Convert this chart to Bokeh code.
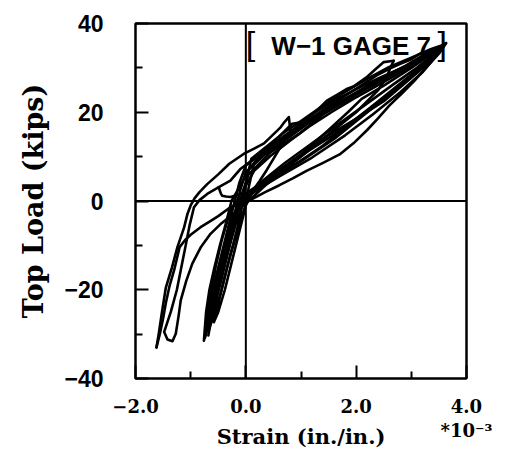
from bokeh.plotting import figure
from bokeh.models import FixedTicker, Span, Label, Range1d
from bokeh.embed import file_html
from bokeh.resources import INLINE

# ---- data (strain in 1e-3 in./in., load in kips) ----
cycle1_x = [0.00, 0.12, 0.25, 0.38, 0.50, 0.62, 0.72, 0.81, 0.78, 0.70, 0.63, 0.48, 0.33, 0.15, -0.04, -0.30, -0.50, -0.70, -0.84,
            -0.93, -1.00, -1.06, -1.12, -1.24, -1.34, -1.45, -1.52, -1.58, -1.62]
cycle1_y = [0.0, 2.2, 4.5, 7.0, 9.5, 12.0, 14.5, 15.5, 18.9, 17.8, 16.6, 14.8, 13.0, 11.8, 10.6, 8.4, 6.0, 3.8, 2.0,
            0.6, -1.0, -3.0, -6.0, -10.4, -15.0, -19.5, -25.0, -30.0, -33.0]

cycle2_x = [-1.62, -1.56, -1.50, -1.45, -1.38, -1.30, -1.20, -1.10, -1.00, -0.82, -0.65, -0.50, -0.28, -0.10, 0.03, 0.12, 0.35,
            0.60, 0.85, 1.10, 1.40, 1.70, 1.95, 2.20, 2.40, 2.60, 2.85, 3.05, 3.30, 3.50, 3.60, 3.63]
cycle2_y = [-33.0, -30.0, -26.5, -23.0, -19.0, -15.6, -10.4, -8.8, -7.6, -5.9, -4.6, -3.4, -1.4, -0.5, 0.0, 0.5, 2.0,
            3.5, 5.1, 6.8, 8.6, 10.5, 13.0, 16.0, 18.7, 21.5, 24.5, 27.0, 30.5, 33.2, 35.0, 35.6]

cycle3_x = [3.63, 3.50, 3.33, 3.16, 2.98, 2.80, 2.60, 2.40, 2.15, 1.90, 1.65, 1.40, 1.20, 1.00, 0.75, 0.50, 0.30, 0.10, -0.10,
            -0.28, -0.49, -0.70, -0.84, -0.94, -1.02, -1.09, -1.17, -1.25, -1.36, -1.48, -1.42, -1.33, -1.27, -1.22, -1.18,
            -1.08, -0.97, -0.82, -0.64, -0.44, -0.22, 0.05, 0.35, 0.62, 0.90, 1.20, 1.50, 1.75, 2.00, 2.20, 2.40, 2.55, 2.62, 2.68]
cycle3_y = [35.6, 34.3, 33.8, 33.2, 31.8, 30.9, 29.8, 28.5, 26.5, 24.5, 22.5, 20.5, 18.8, 17.0, 14.7, 12.5, 10.7, 9.0, 7.2,
            4.6, 3.1, 1.6, 0.2, -1.4, -5.5, -10.0, -15.0, -20.0, -25.0, -29.5, -31.2, -31.6, -29.9, -26.0, -22.4,
            -18.0, -14.1, -10.5, -7.4, -5.0, -2.9, 0.0, 3.5, 6.2, 9.0, 12.0, 15.0, 17.5, 20.0, 22.5, 25.0, 27.8, 30.0, 31.6]

cycle4_x = [2.68, 2.50, 2.35, 2.20, 1.95, 1.84, 1.66, 1.47, 1.30, 1.11, 0.95, 0.84, 0.60, 0.30, 0.05, -0.12, -0.26, -0.36, -0.47,
            -0.57, -0.66, -0.72, -0.76, -0.72, -0.64, -0.55, -0.44, -0.30, -0.18, 0.10, 0.50, 1.00, 1.50, 1.85, 2.10, 2.50, 3.00, 3.30, 3.55]
cycle4_y = [31.6, 31.3, 29.7, 28.0, 25.8, 25.3, 24.0, 22.6, 20.5, 18.5, 17.6, 17.4, 14.5, 11.0, 7.0, 3.0, 0.0, -5.0, -10.0,
            -15.0, -20.0, -25.0, -31.5, -29.0, -22.0, -15.0, -9.0, -3.0, 0.0, 2.5, 6.0, 10.5, 16.0, 20.0, 23.0, 26.0, 30.0, 32.6, 34.8]

cycle5_x = [3.55, 3.20, 2.80, 2.30, 1.84, 1.30, 0.80, 0.35, 0.00, -0.10, -0.15, -0.24, -0.34, -0.45, -0.55, -0.64, -0.72,
            -0.66, -0.56, -0.47, -0.38, -0.27, -0.14, 0.02, 0.30, 0.80, 1.40, 1.90, 2.40, 2.90, 3.30, 3.58]
cycle5_y = [34.8, 32.5, 29.5, 26.0, 23.0, 19.0, 14.5, 10.5, 6.5, 2.5, 0.0, -5.0, -10.0, -15.0, -20.0, -25.0, -29.5,
            -27.0, -20.0, -15.0, -10.0, -5.0, -1.0, 1.5, 3.5, 7.5, 12.5, 17.5, 22.5, 27.5, 31.5, 35.0]

cycle6_x = [3.58, 3.30, 2.90, 2.50, 2.00, 1.50, 1.00, 0.50, 0.15, 0.05, 0.02, -0.08, -0.18, -0.28, -0.38, -0.50, -0.58,
            -0.50, -0.40, -0.28, -0.14, -0.02, 0.10, 0.40, 1.00, 1.60, 2.10, 2.70, 3.20, 3.60]
cycle6_y = [35.0, 33.5, 30.5, 28.0, 24.5, 21.0, 16.5, 12.5, 8.5, 3.0, 0.0, -5.0, -10.0, -15.0, -20.0, -25.0, -27.3,
            -23.0, -18.0, -12.0, -6.0, -1.5, 1.5, 4.5, 9.0, 14.0, 19.0, 25.0, 30.5, 35.2]

cycle7_x = [3.60, 3.25, 2.85, 2.40, 1.95, 1.40, 0.95, 0.45, 0.05, -0.06, -0.10, -0.20, -0.30, -0.40, -0.50, -0.60, -0.68,
            -0.63, -0.57, -0.50, -0.42, -0.32, -0.20, -0.05, 0.25, 0.70, 1.20, 1.70, 2.20, 2.70, 3.10, 3.50]
cycle7_y = [35.2, 33.0, 30.0, 27.0, 23.5, 19.5, 15.0, 11.0, 6.0, 2.0, 0.0, -5.0, -10.0, -15.0, -20.0, -25.0, -30.3,
            -27.0, -22.0, -17.0, -12.0, -7.0, -2.5, 0.5, 4.0, 8.5, 13.0, 17.5, 22.0, 26.5, 30.0, 34.0]

cycle8_x = [3.50, 3.20, 2.80, 2.40, 2.00, 1.60, 1.20, 0.90, 0.60, 0.30, 0.00, -0.12, -0.20, -0.30, -0.40, -0.50, -0.60, -0.68, -0.74,
            -0.70, -0.60, -0.50, -0.38, -0.25, -0.12, 0.15, 0.60, 1.10, 1.60, 2.10, 2.60, 3.10, 3.45, 3.60]
cycle8_y = [34.0, 32.2, 29.8, 27.6, 25.2, 22.6, 19.6, 16.5, 13.8, 11.2, 8.0, 4.0, 0.0, -5.0, -10.0, -15.0, -20.0, -25.0, -30.8,
            -29.0, -23.0, -17.0, -10.5, -5.0, -1.0, 2.5, 6.5, 11.0, 15.0, 19.5, 24.0, 29.0, 33.0, 35.3]

cycle9_x = [3.60, 3.35, 3.00, 2.60, 2.20, 1.80, 1.40, 1.00, 0.70, 0.40, 0.10, 0.00, -0.05, -0.13, -0.23, -0.34, -0.44, -0.55, -0.66,
            -0.60, -0.50, -0.40, -0.29, -0.18, -0.06, 0.05, 0.40, 0.90, 1.45, 2.00, 2.50, 3.00, 3.40, 3.62]
cycle9_y = [35.3, 34.2, 32.3, 30.2, 27.5, 24.6, 21.5, 18.0, 15.5, 12.5, 9.5, 4.0, 0.0, -5.0, -10.0, -15.0, -20.0, -25.0, -28.5,
            -26.0, -20.0, -15.0, -10.0, -5.0, -1.0, 1.0, 5.0, 9.5, 14.5, 18.5, 22.5, 27.8, 32.0, 35.5]

cycle10_x = [3.62, 3.40, 3.10, 2.75, 2.35, 1.95, 1.55, 1.15, 0.80, 0.45, 0.15, -0.02, -0.15, -0.30, -0.45, -0.60, -0.70,
             -0.64, -0.52, -0.36, -0.20, -0.04, 0.20, 0.60, 1.20, 1.80, 2.30, 2.80, 3.20, 3.55]
cycle10_y = [35.5, 33.6, 31.2, 28.6, 25.8, 23.0, 20.0, 16.8, 13.6, 10.2, 6.8, 3.0, -2.0, -10.0, -18.0, -25.0, -29.0,
             -26.5, -19.5, -10.5, -3.5, 0.5, 2.5, 5.5, 9.8, 14.8, 19.5, 24.5, 29.0, 34.2]

curl_x = [-0.49, -0.47, -0.45, -0.43, -0.36, -0.28, -0.10]
curl_y = [3.1, 2.3, 1.6, 1.2, 1.0, 0.9, 1.5]

cycles = [(cycle1_x, cycle1_y), (cycle2_x, cycle2_y), (cycle3_x, cycle3_y), (cycle4_x, cycle4_y),
          (cycle5_x, cycle5_y), (cycle6_x, cycle6_y), (cycle7_x, cycle7_y), (cycle8_x, cycle8_y),
          (cycle9_x, cycle9_y), (cycle10_x, cycle10_y), (curl_x, curl_y)]

x_ticks = [-2, 0, 2, 4]
x_minor = [-1, 1, 3]
x_labels = {-2: "\u22122.0", 0: "0.0", 2: "2.0", 4: "4.0\n*10\u207b\u00b3"}
y_ticks = [-40, -20, 0, 20, 40]
y_minor = [-30, -10, 10, 30]
y_labels = {-40: "\u221240", -20: "\u221220", 0: "0", 20: "20", 40: "40"}

p = figure(width=503, height=451, output_backend="svg", toolbar_location=None,
           x_range=Range1d(-2, 4), y_range=Range1d(-40, 40),
           min_border_left=135, min_border_right=37, min_border_top=23, min_border_bottom=73)
p.xgrid.visible = False
p.ygrid.visible = False
p.background_fill_color = "white"
p.border_fill_color = "white"
p.outline_line_color = "black"
p.outline_line_width = 2.5

serif = "DejaVu Serif"
for ax in (p.xaxis[0], p.yaxis[0]):
    ax.axis_line_color = None
    ax.major_tick_in = 13
    ax.major_tick_out = 0
    ax.minor_tick_in = 7
    ax.minor_tick_out = 0
    ax.major_tick_line_width = 2
    ax.minor_tick_line_width = 2
    ax.major_tick_line_color = "black"
    ax.minor_tick_line_color = "black"
    ax.major_label_text_color = "black"
    ax.axis_label_text_color = "black"
    ax.axis_label_text_font_style = "bold"
    ax.major_label_text_font_style = "bold"

p.xaxis.ticker = FixedTicker(ticks=x_ticks, minor_ticks=x_minor)
p.yaxis.ticker = FixedTicker(ticks=y_ticks, minor_ticks=y_minor)
p.xaxis.major_label_overrides = x_labels
p.yaxis.major_label_overrides = y_labels

p.xaxis.major_label_text_font = serif
p.xaxis.major_label_text_font_size = "18px"
p.xaxis.major_label_text_line_height = 1.15
p.xaxis.major_label_standoff = 17
p.xaxis.axis_label = "Strain (in./in.)"
p.xaxis.axis_label_text_font = serif
p.xaxis.axis_label_text_font_size = "21px"
p.xaxis.axis_label_standoff = -20

p.yaxis.major_label_text_font = "Liberation Sans"
p.yaxis.major_label_text_font_size = "23px"
p.yaxis.major_label_standoff = 32
p.yaxis.axis_label = "Top Load (kips)"
p.yaxis.axis_label_text_font = serif
p.yaxis.axis_label_text_font_size = "27px"
p.yaxis.axis_label_standoff = 12

p.add_layout(Span(location=0, dimension="height", line_color="black", line_width=2))
p.add_layout(Span(location=0, dimension="width", line_color="black", line_width=2))

for cx, cy in cycles:
    p.line(cx, cy, line_color="black", line_width=2.6, line_join="round", line_cap="round")

p.add_layout(Label(x=1.91, y=35.0, text="W\u22121 GAGE 7", text_align="center", text_baseline="middle",
                   text_font="Liberation Sans", text_font_style="bold", text_font_size="26px",
                   text_color="black"))
p.add_layout(Label(x=0.085, y=35.5, text="[", text_align="center", text_baseline="middle",
                   text_font="Liberation Sans", text_font_size="34px", text_color="black"))
p.add_layout(Label(x=3.56, y=35.5, text="]", text_align="center", text_baseline="middle",
                   text_font="Liberation Sans", text_font_size="34px", text_color="black"))

open("out.html", "w").write(file_html(p, INLINE))
